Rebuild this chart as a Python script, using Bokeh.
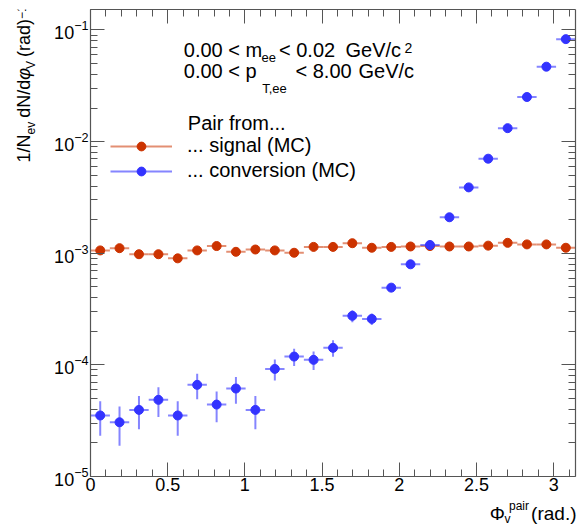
import numpy as np
from bokeh.plotting import figure
from bokeh.layouts import column, row
from bokeh.models import (ColumnDataSource, LogAxis, LinearAxis, FixedTicker, Range1d,
                          Label, Legend, LegendItem, CustomJSTickFormatter)
from bokeh.embed import file_html
from bokeh.resources import INLINE

# ---------------- data ----------------
phi_centers = [0.063, 0.188, 0.314, 0.440, 0.565, 0.691, 0.817, 0.942, 1.068, 1.194,
               1.319, 1.445, 1.571, 1.696, 1.822, 1.948, 2.073, 2.199, 2.325, 2.450,
               2.576, 2.702, 2.827, 2.953, 3.079]
bin_half_width = 0.0628

signal = [1.06e-3, 1.11e-3, 0.98e-3, 0.98e-3, 0.90e-3, 1.06e-3, 1.16e-3, 1.03e-3, 1.08e-3,
          1.06e-3, 1.01e-3, 1.14e-3, 1.14e-3, 1.23e-3, 1.12e-3, 1.14e-3, 1.15e-3, 1.16e-3,
          1.15e-3, 1.15e-3, 1.17e-3, 1.24e-3, 1.20e-3, 1.20e-3, 1.12e-3]
signal_err = [3.0e-5, 3.1e-5, 2.9e-5, 2.9e-5, 2.8e-5, 3.0e-5, 3.2e-5, 3.0e-5, 3.1e-5,
              3.0e-5, 2.9e-5, 3.1e-5, 3.1e-5, 3.3e-5, 3.1e-5, 3.1e-5, 3.1e-5, 3.2e-5,
              3.1e-5, 3.1e-5, 3.2e-5, 3.3e-5, 3.2e-5, 3.2e-5, 3.1e-5]

conversion = [3.52e-5, 3.06e-5, 3.95e-5, 4.86e-5, 3.52e-5, 6.62e-5, 4.41e-5, 6.14e-5, 3.95e-5,
              9.2e-5, 1.187e-4, 1.109e-4, 1.42e-4, 2.75e-4, 2.58e-4, 4.92e-4, 7.96e-4,
              1.186e-3, 2.10e-3, 3.89e-3, 7.03e-3, 1.32e-2, 2.51e-2, 4.69e-2, 8.28e-2]
conversion_err = [1.2e-5, 1.17e-5, 1.3e-5, 1.45e-5, 1.2e-5, 1.7e-5, 1.35e-5, 1.66e-5, 1.3e-5,
                  1.95e-5, 2.1e-5, 2.1e-5, 2.4e-5, 3.4e-5, 3.0e-5, 4.2e-5, 5.4e-5,
                  6.5e-5, 8.7e-5, 1.2e-4, 1.6e-4, 2.2e-4, 3.0e-4, 4.1e-4, 5.5e-4]

x_major_ticks = [0, 0.5, 1, 1.5, 2, 2.5, 3]
x_minor_ticks = [round(0.1 * k, 1) for k in range(0, 32)]
y_major_ticks = [1e-5, 1e-4, 1e-3, 1e-2, 1e-1]
y_minor_ticks = [m * 10.0 ** e for e in range(-5, 0) for m in range(2, 10)]

series_labels = ["... signal (MC)", "... conversion (MC)"]

# ---------------- geometry (canvas pixels) ----------------
W, H = 582, 525
YT_W = 40            # strip on the left for the y title
XT_H = 27            # strip at the bottom for the x title
FL, FT, FR, FB = 90, 9, 575, 476   # frame edges in canvas pixels
MAIN_W, MAIN_H = W - YT_W, H - XT_H
K_BASE = 0.31        # empirical baseline correction (fraction of font size)

FONT = "Liberation Sans"
AXIS_COL = "#555555"
RED = "#cc3300"
BLUE = "#3333ff"

p = figure(width=MAIN_W, height=MAIN_H, x_range=Range1d(0, np.pi),
           y_range=Range1d(1e-5, 0.1526), y_axis_type="log", output_backend="svg",
           toolbar_location=None, min_border_left=FL - YT_W, min_border_right=W - FR,
           min_border_top=FT, min_border_bottom=MAIN_H - FB)
p.grid.visible = False
p.outline_line_color = None
p.background_fill_color = "white"
p.border_fill_color = "white"

def style_axis(ax, show_labels=True):
    ax.axis_line_color = AXIS_COL
    ax.axis_line_width = 1.2
    ax.major_tick_line_color = AXIS_COL
    ax.minor_tick_line_color = AXIS_COL
    ax.major_tick_in = 14
    ax.major_tick_out = 0
    ax.minor_tick_in = 7
    ax.minor_tick_out = 0
    ax.major_label_text_font = FONT
    if show_labels:
        ax.major_label_text_color = "black"
        ax.major_label_text_font_size = "18px"
    else:
        ax.formatter = CustomJSTickFormatter(code="return '';")
        ax.major_label_text_color = None
        ax.major_label_text_font_size = "1px"
        ax.major_label_standoff = 0

xt = FixedTicker(ticks=x_major_ticks, minor_ticks=x_minor_ticks)
yt = FixedTicker(ticks=y_major_ticks, minor_ticks=y_minor_ticks)

xa = p.xaxis[0]
xa.ticker = xt
xa.formatter = CustomJSTickFormatter(code="return tick.toString();")
style_axis(xa)
xa.major_label_standoff = 1

ya = p.yaxis[0]
ya.ticker = yt
style_axis(ya)
ya.major_label_standoff = 2

top = LinearAxis(ticker=xt)
style_axis(top, False)
p.add_layout(top, "above")
right = LogAxis(ticker=yt)
style_axis(right, False)
p.add_layout(right, "right")

# ---------------- data glyphs ----------------
def make_source(y, err):
    y = np.array(y); err = np.array(err); x = np.array(phi_centers)
    return ColumnDataSource(dict(x=x, y=y, xl=x - bin_half_width, xr=x + bin_half_width,
                                 yl=y - err, yh=y + err))

src_s = make_source(signal, signal_err)
src_c = make_source(conversion, conversion_err)

rs_h = p.segment(x0="xl", y0="y", x1="xr", y1="y", source=src_s, line_color=RED,
                 line_alpha=0.55, line_width=2)
p.segment(x0="x", y0="yl", x1="x", y1="yh", source=src_s, line_color=RED,
          line_alpha=0.55, line_width=2)
rs_p = p.scatter("x", "y", source=src_s, size=9, fill_color=RED, line_color=RED)

rc_h = p.segment(x0="xl", y0="y", x1="xr", y1="y", source=src_c, line_color=BLUE,
                 line_alpha=0.6, line_width=2)
p.segment(x0="x", y0="yl", x1="x", y1="yh", source=src_c, line_color=BLUE,
          line_alpha=0.6, line_width=2)
rc_p = p.scatter("x", "y", source=src_c, size=9, fill_color=BLUE, line_color=BLUE)

# ---------------- legend ----------------
legend = Legend(items=[LegendItem(label=series_labels[0], renderers=[rs_h, rs_p]),
                       LegendItem(label=series_labels[1], renderers=[rc_h, rc_p])],
                location=(110 - FL, FB - 182), orientation="vertical",
                glyph_width=62, glyph_height=22, label_height=22, label_standoff=15,
                spacing=2, padding=0, margin=0, background_fill_alpha=0,
                border_line_alpha=0, label_text_font=FONT, label_text_font_size="20px",
                label_text_color="black")
p.add_layout(legend)

# ---------------- texts ----------------
def make_txt(fig, x0, y0):
    # x0, y0: canvas position of that figure's frame bottom-left corner
    # (X, Y) is the wanted start of the text baseline, in canvas pixels
    def txt(s, X, Y, size, angle=0.0, style="normal", align="left"):
        if angle == 0.0:
            Y = Y - K_BASE * size
        else:  # rotated 90 deg counter-clockwise: baseline lies along the y direction
            X = X - K_BASE * size
        fig.add_layout(Label(x=X - x0, y=y0 - Y, x_units="screen", y_units="screen",
                             text=s, text_font=FONT, text_font_size=f"{size}px",
                             text_font_style=style, text_baseline="alphabetic",
                             text_align=align, angle=angle, text_color="black"))
    return txt

txt = make_txt(p, FL, FB)
txt("0.00 < m", 183.3, 56, 20)
txt("ee", 261, 61.5, 13)
txt("< 0.02", 278.5, 56, 20)
txt("GeV/c", 345, 56, 20)
txt("2", 404, 52, 14)
txt("0.00 < p", 183.3, 77, 20)
txt("T,ee", 261.7, 92, 13)
txt("< 8.00", 295, 77, 20)
txt("GeV/c", 358, 77, 20)
txt("Pair from...", 187.3, 128.3, 20)

# y-axis title strip
yfig = figure(width=YT_W, height=MAIN_H, x_range=Range1d(0, 1), y_range=Range1d(0, 1),
              output_backend="svg", toolbar_location=None, min_border=0,
              x_axis_location=None, y_axis_location=None)
yfig.grid.visible = False
yfig.outline_line_color = None
yfig.background_fill_color = "white"
ty = make_txt(yfig, 0, MAIN_H)

WID = {'0': 556, '1': 556, ' ': 278, '/': 278, 'N': 722, 'e': 556, 'v': 500, 'd': 556,
       'V': 667, '(': 333, ')': 333, 'r': 333, 'a': 556, '\u2212': 584, '\u03c6': 600}
def width(s, size):
    return sum(WID.get(c, 556) for c in s) * size / 1000.0

# (text, font size, baseline shift to the right, style, gap before, in px)
pieces = [("1/N", 18, 0, "normal", 0), ("ev", 12, 5, "normal", 0),
          ("dN/d", 18, 0, "normal", 4), ("\u03c6", 18, 0, "italic", 0),
          ("V", 12, 5, "normal", 0), ("(rad)", 18, 0, "normal", 4),
          ("\u22121", 12, -5, "normal", 0)]
Yc = 184.0
for s, size, off, style, gap in pieces:
    Yc -= gap
    ty(s, 29.5 + off, Yc, size, angle=np.pi / 2, style=style)
    Yc -= width(s, size)

# x-axis title strip
xfig = figure(width=W, height=XT_H, x_range=Range1d(0, 1), y_range=Range1d(0, 1),
              output_backend="svg", toolbar_location=None, min_border=0,
              x_axis_location=None, y_axis_location=None)
xfig.grid.visible = False
xfig.outline_line_color = None
xfig.background_fill_color = "white"
tx = make_txt(xfig, 0, H)
tx("\u03a6", 489.3, 519, 19)
tx("v", 504, 522, 12)
tx("pair", 508.5, 509, 12)
tx("(rad.)", 576, 519, 19, align="right")

layout = column(row(yfig, p, spacing=0), xfig, spacing=0)
open("out.html", "w").write(file_html(layout, INLINE))
